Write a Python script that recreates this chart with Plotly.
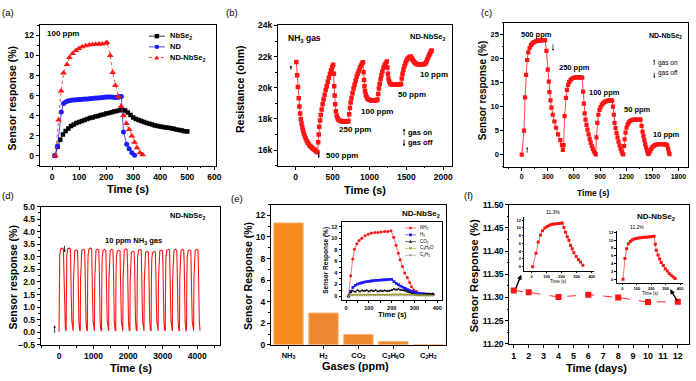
import plotly.graph_objects as go

W, H = 696, 381
FONT = "Arial, Liberation Sans, sans-serif"
RED = "#FF1414"
BLUE = "#1A1AFF"
BLACK = "#000000"
OLIVE = "#9C9C1C"
GRAY = "#8C8C8C"

# ---------------- (a) 100 ppm response ----------------
a_nbse2_t = [10, 20, 30, 40, 50, 60, 70, 80, 90, 100, 110, 120, 130, 140, 150, 160, 170, 180, 190, 200,
             210, 220, 230, 240, 250, 260, 270, 280, 290, 300, 310, 320, 330, 340, 350, 360, 370, 380, 390, 400,
             410, 420, 430, 440, 450, 460, 470, 480, 490, 500]
a_nbse2_v = [0, 0.9, 1.6, 2.1, 2.45, 2.7, 2.95, 3.1, 3.25, 3.35, 3.45, 3.55, 3.65, 3.75, 3.82, 3.9, 3.97, 4.05, 4.12, 4.2,
             4.27, 4.33, 4.4, 4.47, 4.53, 4.58, 4.5, 4.3, 4.05, 3.8, 3.66, 3.55, 3.45, 3.36, 3.27, 3.18, 3.1, 3.02, 2.96, 2.9,
             2.86, 2.82, 2.78, 2.74, 2.69, 2.62, 2.56, 2.5, 2.44, 2.4]
a_nd_t = [10, 20, 34, 42, 50, 58, 66, 74, 82, 90, 98, 106, 114, 122, 130, 138, 146, 154, 162, 170,
          178, 186, 194, 202, 210, 218, 226, 234, 242, 250, 256, 264, 276, 285, 295, 305]
a_nd_v = [0, 0.95, 4.35, 5.2, 5.35, 5.45, 5.5, 5.55, 5.55, 5.58, 5.6, 5.6, 5.62, 5.65, 5.65, 5.68, 5.7, 5.72, 5.75, 5.75,
          5.78, 5.8, 5.82, 5.85, 5.85, 5.85, 5.83, 5.8, 5.82, 5.87, 5.9, 2.35, 1.15, 0.7, 0.3, 0.05]
a_ndnb_t = [12, 24, 33, 42, 55, 64, 76, 88, 99, 111, 124, 137, 149, 161, 173, 185, 198, 203, 215, 224,
            234, 245, 255, 264, 275, 285, 295, 305, 314, 325, 335]
a_ndnb_v = [0, 3.55, 6.45, 8.25, 9.1, 9.8, 10.2, 10.5, 10.7, 10.87, 10.97, 11.06, 11.1, 11.13, 11.16, 11.16, 11.22, 11.3, 10.0, 8.3,
            7.0, 5.9, 4.9, 4.0, 3.2, 2.6, 1.95, 1.35, 0.8, 0.3, 0.1]

# ---------------- (b) resistance ----------------
b_time = [9, 20, 30, 41, 50, 60, 70, 80, 90, 100, 110, 122, 135, 150, 165, 180, 195, 210, 225, 240, 255, 270, 285, 295,
          305, 312, 320, 330, 340, 352, 365, 378, 392, 406, 420, 435, 450, 465, 480, 495, 508,
          518, 522, 528, 535, 545, 556, 568, 580, 595, 610, 625, 640, 655, 670, 685, 700, 715,
          725, 735, 745, 757, 770, 784, 798, 812, 826, 840, 855, 870, 885, 900, 912,
          920, 926, 932, 940, 950, 962, 975, 990, 1005, 1020, 1035, 1050, 1065, 1080, 1095, 1108,
          1118, 1128, 1138, 1150, 1162, 1175, 1190, 1205, 1220, 1235,
          1243, 1250, 1258, 1268, 1280, 1295, 1310, 1325, 1340, 1355, 1370, 1385, 1400, 1415, 1428,
          1438, 1448, 1460, 1473, 1486, 1500, 1515, 1530, 1545, 1560,
          1572, 1585, 1598, 1612, 1626, 1640, 1655, 1670, 1685, 1700, 1715, 1730, 1745, 1758, 1770, 1782, 1795, 1808, 1820, 1832, 1842]
b_res = [21650, 20800, 20050, 19320, 18800, 18350, 17980, 17700, 17460, 17260, 17070, 16900, 16740, 16580, 16470, 16360, 16270, 16200, 16130, 16070, 16020, 15960, 15900, 15860,
         16500, 17000, 17500, 17900, 18250, 18600, 18950, 19250, 19550, 19850, 20100, 20380, 20650, 20900, 21120, 21330, 21480,
         20900, 20100, 19500, 18950, 18500, 18200, 18050, 17950, 17900, 17870, 17850, 17840, 17830, 17830, 17830, 17840, 17860,
         18300, 18700, 19050, 19350, 19650, 19950, 20200, 20450, 20700, 20900, 21100, 21280, 21430, 21560, 21640,
         21000, 20500, 20100, 19800, 19550, 19400, 19300, 19250, 19220, 19200, 19190, 19180, 19180, 19180, 19200, 19240,
         19600, 19950, 20250, 20550, 20800, 21050, 21280, 21450, 21580, 21680,
         21300, 20900, 20600, 20400, 20280, 20220, 20200, 20190, 20190, 20190, 20200, 20200, 20210, 20220, 20250,
         20600, 20900, 21150, 21380, 21560, 21720, 21850, 21930, 21980, 22000,
         21900, 21800, 21700, 21620, 21560, 21530, 21510, 21500, 21500, 21500, 21500, 21510, 21520, 21560, 21650, 21800, 21950, 22080, 22200, 22320, 22400]

# ---------------- (c) response at several concentrations ----------------
c_time = [0, 26, 38, 50, 62, 75, 90, 105, 120, 135, 150, 165, 180, 195, 210, 225, 240, 255, 268,
          284, 299, 311, 318, 330, 341, 356, 375, 394, 417, 443, 462, 472,
          481, 492, 508, 519, 532, 545, 560, 575, 590, 605, 620, 635, 650, 665, 680, 695,
          705, 714, 722, 732, 744, 756, 768, 780, 792, 804, 816, 828, 840, 850,
          858, 868, 880, 893, 906, 920, 935, 950, 965, 980, 995, 1010, 1025, 1038,
          1048, 1057, 1066, 1077, 1089, 1100, 1112, 1124, 1136, 1148, 1158, 1166,
          1175, 1182, 1192, 1204, 1217, 1230, 1245, 1260, 1275, 1290, 1305, 1320, 1335, 1350, 1365,
          1377, 1388, 1398, 1408, 1418, 1428, 1438, 1447, 1455,
          1465, 1475, 1487, 1500, 1515, 1530, 1545, 1560, 1575, 1590, 1605, 1620, 1635, 1650, 1662, 1672, 1682, 1690, 1697]
c_resp = [0, 5.0, 11.9, 16.6, 19.7, 21.3, 22.2, 22.8, 23.1, 23.35, 23.5, 23.6, 23.7, 23.75, 23.8, 23.8, 23.85, 23.85, 23.85,
          21.6, 17.7, 15.2, 13.0, 11.3, 9.8, 8.3, 6.9, 5.6, 4.2, 3.0, 2.0, 1.0,
          2.0, 8.0, 11.8, 13.5, 14.5, 15.1, 15.5, 15.8, 15.95, 16.05, 16.1, 16.1, 16.15, 16.1, 16.1, 16.0,
          13.1, 10.6, 8.6, 7.3, 6.2, 5.2, 4.2, 3.3, 2.5, 1.8, 1.2, 0.7, 0.35, 0.07,
          3.6, 6.6, 8.3, 9.3, 9.9, 10.4, 10.7, 10.95, 11.1, 11.2, 11.25, 11.3, 11.3, 11.25,
          10.0, 8.3, 6.6, 5.5, 4.5, 3.6, 2.7, 1.9, 1.2, 0.6, 0.2, 0.07,
          1.8, 3.2, 4.6, 5.6, 6.3, 6.7, 7.0, 7.15, 7.25, 7.3, 7.3, 7.3, 7.3, 7.3, 7.3,
          6.0, 4.8, 3.9, 3.0, 2.2, 1.5, 0.9, 0.4, 0.1,
          0.4, 0.8, 1.2, 1.55, 1.8, 2.0, 2.1, 2.15, 2.2, 2.2, 2.2, 2.2, 2.2, 2.15, 2.05, 1.9, 1.2, 0.5, 0.1]

# ---------------- (d) 20 repeated cycles at 10 ppm ----------------
d_cycle_start = [0, 205, 410, 615, 820, 1025, 1230, 1435, 1640, 1845,
                 2050, 2255, 2460, 2665, 2870, 3075, 3280, 3485, 3690, 3895]
d_offset = [0, 8, 20, 45, 90, 125, 138, 150, 165, 185]
d_cycles = [
    [0.02, 2.15, 3.05, 3.30, 3.35, 3.31, 2.72, 1.42, 0.46, 0.10],
    [0.06, 2.12, 3.04, 3.31, 3.35, 3.30, 2.70, 1.40, 0.45, 0.09],
    [0.05, 2.05, 2.98, 3.23, 3.28, 3.25, 2.66, 1.37, 0.44, 0.09],
    [0.05, 2.08, 3.00, 3.26, 3.30, 3.27, 2.68, 1.38, 0.44, 0.09],
    [0.05, 2.12, 3.04, 3.30, 3.35, 3.31, 2.71, 1.40, 0.45, 0.10],
    [0.05, 2.09, 3.01, 3.27, 3.31, 3.27, 2.69, 1.39, 0.44, 0.09],
    [0.05, 2.08, 3.00, 3.26, 3.30, 3.26, 2.68, 1.38, 0.44, 0.09],
    [0.05, 2.08, 3.00, 3.25, 3.30, 3.27, 2.68, 1.38, 0.44, 0.09],
    [0.05, 2.06, 2.98, 3.23, 3.27, 3.24, 2.65, 1.37, 0.43, 0.09],
    [0.05, 2.10, 3.02, 3.28, 3.32, 3.28, 2.70, 1.39, 0.44, 0.09],
    [0.05, 2.03, 2.93, 3.18, 3.22, 3.19, 2.61, 1.35, 0.43, 0.09],
    [0.05, 2.08, 3.00, 3.26, 3.30, 3.26, 2.68, 1.38, 0.44, 0.09],
    [0.05, 2.03, 2.93, 3.18, 3.22, 3.19, 2.61, 1.35, 0.43, 0.09],
    [0.05, 2.03, 2.94, 3.18, 3.22, 3.18, 2.61, 1.35, 0.43, 0.09],
    [0.05, 2.06, 2.97, 3.23, 3.27, 3.24, 2.65, 1.37, 0.43, 0.09],
    [0.05, 2.08, 3.00, 3.26, 3.30, 3.27, 2.68, 1.38, 0.44, 0.09],
    [0.05, 2.08, 3.00, 3.25, 3.30, 3.26, 2.68, 1.38, 0.44, 0.09],
    [0.05, 2.08, 3.01, 3.26, 3.30, 3.26, 2.68, 1.38, 0.44, 0.09],
    [0.05, 2.07, 2.99, 3.24, 3.28, 3.25, 2.66, 1.37, 0.44, 0.09],
    [0.05, 2.08, 3.00, 3.26, 3.30, 3.27, 2.68, 1.38, 0.44, 0.06],
]

# ---------------- (e) selectivity ----------------
e_gases = ["NH<sub>3</sub>", "H<sub>2</sub>", "CO<sub>2</sub>", "C<sub>3</sub>H<sub>6</sub>O", "C<sub>2</sub>H<sub>2</sub>"]
e_resp = [11.3, 2.95, 0.95, 0.3, 0.0]
e_colors = ["#F68B1F", "#EC8732", "#EE8A2E", "#F08A28", "#F68B1F"]
ei_nh3_t = [10, 20, 29, 37, 47, 57, 69, 83, 97, 111, 126, 140, 154, 169, 183, 197, 209, 219, 229, 237,
            247, 257, 269, 279, 287, 297, 309, 323, 340, 361, 383]
ei_nh3_v = [0, 3.5, 6.4, 8.1, 9.05, 9.6, 10.0, 10.45, 10.7, 10.9, 11.0, 11.0, 11.1, 11.17, 11.17, 11.3, 10.2, 8.8, 7.4, 6.3,
            5.1, 4.0, 3.2, 2.35, 1.6, 1.06, 0.8, 0.5, 0.4, 0.3, 0.3]
ei_t = [10, 20, 30, 40, 50, 60, 70, 80, 90, 100, 110, 120, 130, 140, 150, 160, 170, 180, 190, 200,
        210, 220, 230, 240, 250, 260, 270, 280, 290, 300, 310, 320, 330, 340, 350, 360, 370, 380]
ei_h2_v = [0, 0.8, 1.5, 1.85, 2.05, 2.2, 2.3, 2.4, 2.5, 2.55, 2.6, 2.65, 2.7, 2.72, 2.75, 2.8, 2.82, 2.85, 2.88, 2.9,
           2.5, 2.2, 1.95, 1.7, 1.5, 1.3, 1.1, 0.95, 0.8, 0.65, 0.55, 0.45, 0.4, 0.35, 0.32, 0.3, 0.3, 0.3]
ei_co2_v = [0, 0.6, 0.9, 0.75, 1.0, 0.8, 0.95, 0.85, 1.0, 0.8, 0.95, 0.85, 1.0, 0.8, 0.9, 0.85, 0.95, 0.85, 0.9, 1.0,
            1.2, 1.1, 1.2, 1.05, 1.0, 0.9, 0.75, 0.6, 0.45, 0.3, 0.2, 0.15, 0.2, 0.25, 0.35, 0.4, 0.35, 0.4]
ei_c3h6o_v = [0, 0.15, 0.2, 0.25, 0.22, 0.25, 0.2, 0.25, 0.22, 0.25, 0.23, 0.25, 0.22, 0.25, 0.24, 0.25, 0.22, 0.26, 0.24, 0.25,
              0.28, 0.3, 0.28, 0.3, 0.28, 0.25, 0.25, 0.22, 0.2, 0.2, 0.18, 0.15, 0.15, 0.12, 0.1, 0.1, 0.1, 0.1]
ei_c2h2_v = [0, 0.05, 0.05, 0.06, 0.05, 0.06, 0.05, 0.06, 0.05, 0.06, 0.05, 0.06, 0.05, 0.06, 0.05, 0.06, 0.05, 0.06, 0.05, 0.06,
             0.06, 0.07, 0.06, 0.07, 0.06, 0.06, 0.05, 0.05, 0.05, 0.04, 0.04, 0.04, 0.04, 0.04, 0.03, 0.03, 0.03, 0.03]

# ---------------- (f) stability ----------------
f_days = [1, 2, 4, 6, 8, 10, 12]
f_resp = [11.315, 11.311, 11.301, 11.306, 11.300, 11.290, 11.291]
f1_t = [7, 29, 44, 59, 73, 88, 103, 118, 133, 148, 163, 178, 193, 204, 215, 226, 237, 248, 259, 270, 281, 297, 312, 325, 341]
f1_v = [0, 3.5, 6.4, 8.2, 9.3, 10.0, 10.4, 10.7, 10.9, 11.0, 11.1, 11.15, 11.22, 11.3, 10.1, 8.9, 7.7, 6.8, 5.5, 4.6, 3.6, 2.6, 1.8, 1.2, 0.4]
f2_t = [5, 18, 30, 42, 55, 68, 82, 96, 110, 124, 138, 152, 166, 180, 194, 208, 220, 228, 235, 247, 258,
        269, 283, 297, 311, 324, 338, 352, 365]
f2_v = [0, 5.3, 7.8, 9.1, 9.7, 10.1, 10.3, 10.45, 10.55, 10.65, 10.7, 10.75, 10.8, 10.85, 10.9, 10.95, 11.0, 9.0, 7.45, 6.2, 5.2,
        4.3, 3.5, 2.7, 2.1, 1.5, 1.0, 0.6, 0.2]

# ======================================================================
fig = go.Figure()


def xa(i):
    return "x" if i == 1 else "x%d" % i


def ya(i):
    return "y" if i == 1 else "y%d" % i


def add_line(i, x, y, color, mode="lines+markers", symbol="square", size=4.5, width=0.8, dash="solid"):
    fig.add_trace(go.Scatter(x=x, y=y, xaxis=xa(i), yaxis=ya(i), mode=mode,
                             line=dict(color=color, width=width, dash=dash),
                             marker=dict(symbol=symbol, size=size, color=color, line=dict(width=0)),
                             showlegend=False, hoverinfo="skip"))


# (a)
add_line(1, a_nbse2_t, a_nbse2_v, BLACK, symbol="square", size=4.5)
add_line(1, a_nd_t, a_nd_v, BLUE, symbol="circle", size=5)
add_line(1, a_ndnb_t, a_ndnb_v, RED, symbol="triangle-up", size=6, dash="dot")
# (b)
add_line(2, b_time, b_res, RED, symbol="square", size=4.5)
# (c)
add_line(3, c_time, c_resp, RED, symbol="square", size=4.2)
# (d)
d_t, d_v = [], []
for s, cyc in zip(d_cycle_start, d_cycles):
    for o, v in zip(d_offset, cyc):
        d_t.append(s + o)
        d_v.append(v)
add_line(4, d_t, d_v, RED, mode="lines", width=1.1)
# (e)
fig.add_trace(go.Bar(x=e_gases, y=e_resp, xaxis="x5", yaxis="y5", width=0.84,
                     marker=dict(color=e_colors, line=dict(color="#FBB36A", width=1)),
                     showlegend=False, hoverinfo="skip"))
add_line(7, ei_nh3_t, ei_nh3_v, RED, symbol="circle", size=3, width=0.6)
add_line(7, ei_t, ei_h2_v, BLUE, symbol="square", size=2.8, width=0.6)
add_line(7, ei_t, ei_co2_v, BLACK, symbol="triangle-up", size=3, width=0.6)
add_line(7, ei_t, ei_c3h6o_v, OLIVE, symbol="triangle-down", size=3, width=0.6)
add_line(7, ei_t, ei_c2h2_v, GRAY, symbol="cross-thin", size=3, width=0.6)
# (f)
add_line(6, f_days, f_resp, RED, symbol="square", size=6, width=0.9, dash="dash")
add_line(8, f1_t, f1_v, RED, symbol="square", size=3, width=0.6)
add_line(9, f2_t, f2_v, RED, symbol="square", size=3, width=0.6)


def dom(x0, x1, y0, y1):
    return [x0 / W, x1 / W], [1 - y1 / H, 1 - y0 / H]


def axstyle(domain, rng, anchor, dtick=None, minor=None, size=8.5, fmt=None, ticklen=3, typ=None, mirror=True):
    d = dict(domain=domain, range=rng, anchor=anchor, showline=True, linecolor="black", linewidth=1,
             mirror=mirror, ticks="outside", ticklen=ticklen, tickwidth=1, tickcolor="black",
             showgrid=False, zeroline=False,
             tickfont=dict(family=FONT, size=size, color="black", weight="bold"))
    if typ:
        d["type"] = typ
    if dtick is not None:
        d["dtick"] = dtick
        d["tick0"] = 0
    if minor is not None:
        d["minor"] = dict(dtick=minor, ticks="outside", ticklen=max(1.5, ticklen * 0.6),
                          tickcolor="black", tickwidth=0.8, showgrid=False)
    if fmt:
        d["tickformat"] = fmt
    return d


panels = {
    1: (dom(40, 218, 21, 165), [-46, 608], 100, 50, [-1, 13], 2, 1, 8.5, 8.5, None, None),
    2: (dom(280, 455, 21, 165), [-240, 2115], 500, 250, [15000, 24000], 2000, 1000, 8.5, 8.5, None, None),
    3: (dom(508, 693, 18, 166), [-200, 1910], 300, 150, [-2.5, 27.5], 5, 2.5, 7, 7.5, None, None),
    4: (dom(41, 222, 207, 349), [-530, 4670], 1000, 500, [-0.5, 5.0], 0.5, 0.25, 8.5, 8.5, None, ".1f"),
    6: (dom(513, 694, 205, 348), [0.7, 12.75], 1, None, [11.2, 11.5], 0.05, 0.025, 9, 8.5, None, ".2f"),
    7: (dom(344, 445, 223, 303), [-20, 420], 100, 50, [-0.7, 12.8], 2, 1, 5.5, 5.5, None, None),
    8: (dom(528, 598, 218, 273), [-49, 413], 100, None, [-1.07, 12.75], 2, None, 4, 4, None, None),
    9: (dom(621, 688, 232, 285), [-40, 420], 100, None, [-0.84, 12.4], 2, None, 4, 4, None, None),
}

layout_axes = {}
for i, (dm, xr, xdt, xmin, yr, ydt, ymin, xs, ys, xf, yf) in panels.items():
    tl = 3 if i not in (8, 9) else 1.5
    if i == 7:
        tl = 2
    mir = i not in (8, 9)
    layout_axes["xaxis" if i == 1 else "xaxis%d" % i] = axstyle(dm[0], xr, ya(i), xdt, xmin, xs, xf, tl, mirror=mir)
    layout_axes["yaxis" if i == 1 else "yaxis%d" % i] = axstyle(dm[1], yr, xa(i), ydt, ymin, ys, yf, tl, mirror=mir)

dm5 = dom(273, 449, 205, 349)
layout_axes["xaxis5"] = axstyle(dm5[0], [-0.5, 4.5], "y5", size=7.5, typ="category")
layout_axes["yaxis5"] = axstyle(dm5[1], [0, 13], "x5", 2, 1, 8.5)

# ---------------- text ----------------
ann = []


def txt(x, y, s, size=8, bold=True, xanchor="center", angle=0, color="black"):
    ann.append(dict(x=x / W, y=1 - y / H, xref="paper", yref="paper", text=s, showarrow=False,
                    xanchor=xanchor, yanchor="middle", textangle=angle,
                    font=dict(family=FONT, size=size, color=color, weight="bold" if bold else "normal")))


def arrow(hx, hy, tx, ty, width=0.8, size=0.6, head=2):
    ann.append(dict(x=hx / W, y=1 - hy / H, xref="paper", yref="paper", ax=tx - hx, ay=ty - hy,
                    axref="pixel", ayref="pixel", text="", showarrow=True, arrowhead=head,
                    arrowsize=size, arrowwidth=width, arrowcolor="black"))


# panel labels
txt(8, 8, "(a)", 9.5, False)
txt(234, 8, "(b)", 9.5, False)
txt(490, 8, "(c)", 9.5, False)
txt(8, 196, "(d)", 9.5, False)
txt(239, 199, "(e)", 9.5, False)
txt(472, 196, "(f)", 9.5, False)

# axis titles
txt(13, 96, "Sensor response (%)", 10.5, angle=-90)
txt(129, 189, "Time (s)", 11)
txt(241, 86, "Resistance (ohm)", 10.5, angle=-90)
txt(368, 190, "Time (s)", 11)
txt(486, 88, "Sensor response (%)", 10, angle=-90)
txt(598, 193, "Time (s)", 8.5)
txt(13, 280, "Sensor response (%)", 10.5, angle=-90)
txt(132, 373, "Time (s)", 11)
txt(249, 278, "Sensor Response (%)", 10.5, angle=-90)
txt(358, 371, "Gases (ppm)", 11)
txt(477, 278, "Sensor Response (%)", 11, angle=-90)
txt(601, 373, "Time (days)", 11)
# inset titles
txt(328, 262, "Sensor Response (%)", 6.5, angle=-90)
txt(395, 318, "Time (s)", 7.5)
txt(563, 284, "Time (s)", 4.5, False)
txt(655, 296, "Time (s)", 4.5, False)

# (a)
txt(45, 29, "100 ppm", 8, xanchor="left")
# (b)
txt(288, 34, "NH<sub>3</sub> gas", 8.5, xanchor="left")
txt(451, 33, "ND-NbSe<sub>2</sub>", 7.5, xanchor="right")
txt(326, 155, "500 ppm", 8, xanchor="left")
txt(339, 128, "250 ppm", 8, xanchor="left")
txt(362, 109, "100 ppm", 8, xanchor="left")
txt(399, 92, "50 ppm", 8, xanchor="left")
txt(421, 71, "10 ppm", 8, xanchor="left")
txt(409, 131, "gas on", 7.5, xanchor="left")
txt(409, 141, "gas off", 7.5, xanchor="left")
arrow(407, 127, 407, 135)
arrow(407, 145, 407, 137)
arrow(293, 62, 293, 68)
arrow(321, 157, 321, 150)
# (c)
txt(523, 30, "500 ppm", 7.5, xanchor="left")
txt(561, 64, "250 ppm", 7.5, xanchor="left")
txt(591, 90, "100 ppm", 7.5, xanchor="left")
txt(627, 107, "50 ppm", 7.5, xanchor="left")
txt(656, 133, "10 ppm", 7.5, xanchor="left")
txt(689, 32, "ND-NbSe<sub>2</sub>", 7, xanchor="right")
txt(661, 60, "gas on", 6.5, False, xanchor="left")
txt(661, 70, "gas off", 6.5, False, xanchor="left")
arrow(659, 56, 659, 63, 0.7, 0.5)
arrow(659, 75, 659, 68, 0.7, 0.5)
arrow(531, 146, 531, 153, 0.7, 0.5)
arrow(557, 47, 557, 39, 0.7, 0.5)
# (d)
txt(210, 217, "ND-NbSe<sub>2</sub>", 7.5, xanchor="right")
txt(134, 242, "10 ppm NH<sub>3</sub> gas", 7.5)
arrow(55, 329, 55, 338)
arrow(65, 254, 65, 246)
# (e)
txt(445, 215, "ND-NbSe<sub>2</sub>", 8, xanchor="right")
# (f)
txt(682, 218, "ND-NbSe<sub>2</sub>", 8, xanchor="right")
txt(557, 213, "11.3%", 5, False)
txt(642, 228, "11.2%", 5, False)
arrow(525, 277, 519, 292, 1.4, 0.7)
arrow(675, 292, 683, 305, 1.4, 0.7)

# ---------------- manual legends ----------------
shapes = []


def P(x, y):
    return x / W, 1 - y / H


def leg_line(x0, x1, y, color, width=0.8, dash="solid"):
    a, b = P(x0, y)
    c, _ = P(x1, y)
    shapes.append(dict(type="line", xref="paper", yref="paper", x0=a, y0=b, x1=c, y1=b,
                       line=dict(color=color, width=width, dash=dash)))


def leg_marker(kind, cx, cy, s, color):
    if kind == "square":
        x0, y0 = P(cx - s / 2, cy + s / 2)
        x1, y1 = P(cx + s / 2, cy - s / 2)
        shapes.append(dict(type="rect", xref="paper", yref="paper", x0=x0, y0=y0, x1=x1, y1=y1,
                           fillcolor=color, line=dict(width=0)))
    elif kind == "circle":
        x0, y0 = P(cx - s / 2, cy + s / 2)
        x1, y1 = P(cx + s / 2, cy - s / 2)
        shapes.append(dict(type="circle", xref="paper", yref="paper", x0=x0, y0=y0, x1=x1, y1=y1,
                           fillcolor=color, line=dict(width=0)))
    elif kind in ("up", "down"):
        sg = 1 if kind == "up" else -1
        p1 = P(cx, cy - sg * s * 0.55)
        p2 = P(cx - s * 0.55, cy + sg * s * 0.45)
        p3 = P(cx + s * 0.55, cy + sg * s * 0.45)
        path = "M %f,%f L %f,%f L %f,%f Z" % (p1 + p2 + p3)
        shapes.append(dict(type="path", xref="paper", yref="paper", path=path,
                           fillcolor=color, line=dict(width=0)))
    elif kind == "cross":
        leg_line(cx - s / 2, cx + s / 2, cy, color, 0.7)
        a, b = P(cx, cy - s / 2)
        c, d = P(cx, cy + s / 2)
        shapes.append(dict(type="line", xref="paper", yref="paper", x0=a, y0=b, x1=c, y1=d,
                           line=dict(color=color, width=0.7)))


# (a) legend
for yy, col, kind, label, dash in [(32, BLACK, "square", "NbSe<sub>2</sub>", "solid"),
                                   (43, BLUE, "circle", "ND", "solid"),
                                   (54, RED, "up", "ND-NbSe<sub>2</sub>", "dot")]:
    leg_line(150, 166, yy, col, 0.8, dash)
    leg_marker(kind, 158, yy, 4.5, col)
    txt(169, yy, label, 7.5, xanchor="left")

# (e) inset legend
for yy, col, kind, label in [(229, RED, "circle", "NH<sub>3</sub>"),
                             (236, BLUE, "square", "H<sub>2</sub>"),
                             (243, BLACK, "up", "CO<sub>2</sub>"),
                             (250, OLIVE, "down", "C<sub>3</sub>H<sub>6</sub>O"),
                             (257, GRAY, "cross", "C<sub>2</sub>H<sub>2</sub>")]:
    leg_line(408, 419, yy, col, 0.6)
    leg_marker(kind, 413.5, yy, 2.8, col)
    txt(421, yy, label, 4.5, False, xanchor="left")

fig.update_layout(width=W, height=H, margin=dict(l=0, r=0, t=0, b=0),
                  paper_bgcolor="white", plot_bgcolor="white",
                  annotations=ann, shapes=shapes, bargap=0.16,
                  font=dict(family=FONT, color="black"), **layout_axes)

fig.write_html("out.html")
